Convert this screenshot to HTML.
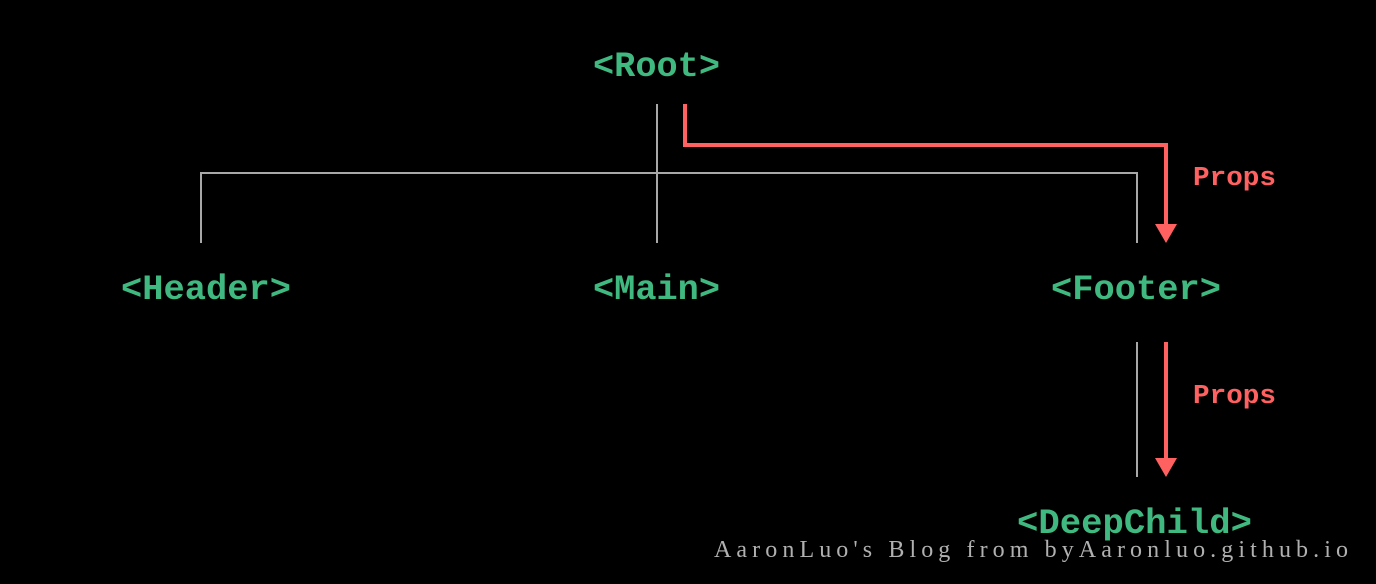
<!DOCTYPE html>
<html><head><meta charset="utf-8"><style>
html,body{margin:0;padding:0;background:#000;}
body{width:1376px;height:584px;position:relative;overflow:hidden;}
svg{position:absolute;left:0;top:0;}
</style></head><body>
<svg width="1376" height="584" viewBox="0 0 1376 584">
<rect width="1376" height="584" fill="#000"/>
<g stroke="#a8a8a8" stroke-width="2" fill="none">
<line x1="657" y1="104" x2="657" y2="243"/>
<polyline points="201,243 201,173 1137,173 1137,243"/>
<line x1="1137" y1="342" x2="1137" y2="477"/>
</g>
<g stroke="#ff6161" stroke-width="4" fill="none">
<polyline points="685,104 685,145 1166,145 1166,228"/>
<line x1="1166" y1="342" x2="1166" y2="462"/>
</g>
<g fill="#ff6161">
<polygon points="1155,224 1177,224 1166,243"/>
<polygon points="1155,458 1177,458 1166,477"/>
</g>
<g font-family="Liberation Mono, monospace" font-weight="bold" font-size="35" fill="#3fb980">
<text x="593" y="76" textLength="127" lengthAdjust="spacingAndGlyphs">&lt;Root&gt;</text>
<text x="121" y="299" textLength="170" lengthAdjust="spacingAndGlyphs">&lt;Header&gt;</text>
<text x="593" y="299" textLength="127" lengthAdjust="spacingAndGlyphs">&lt;Main&gt;</text>
<text x="1051" y="299" textLength="170" lengthAdjust="spacingAndGlyphs">&lt;Footer&gt;</text>
<text x="1017" y="533" textLength="235" lengthAdjust="spacingAndGlyphs">&lt;DeepChild&gt;</text>
</g>
<g font-family="Liberation Mono, monospace" font-weight="bold" font-size="27" fill="#ff6161">
<text x="1193" y="185" textLength="83" lengthAdjust="spacingAndGlyphs">Props</text>
<text x="1193" y="403" textLength="83" lengthAdjust="spacingAndGlyphs">Props</text>
</g>
<text x="714" y="557" font-family="Liberation Serif, serif" font-size="24" fill="#b0b0b0" textLength="634" lengthAdjust="spacing">AaronLuo's Blog from byAaronluo.github.io</text>
</svg>
</body></html>
